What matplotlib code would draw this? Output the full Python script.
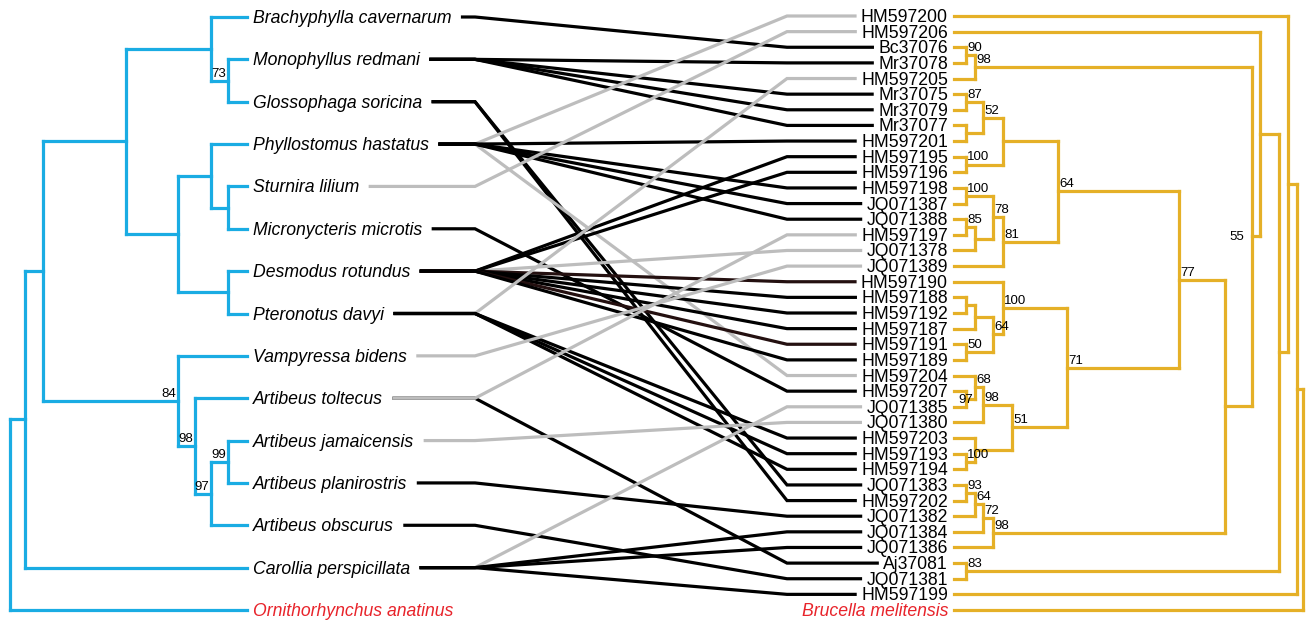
import matplotlib
matplotlib.use("Agg")
import matplotlib.pyplot as plt

plt.rcParams['font.family'] = ['Liberation Sans', 'DejaVu Sans']

# trees as (depth of node from the tip column, support, children); tips are names
bat_tree = (237, None, [
    (222, None, [
        (204, None, [
            (121, None, [
                (36, None, ["Brachyphylla cavernarum",
                            (19, 73, ["Monophyllus redmani", "Glossophaga soricina"])]),
                (69, None, [
                    (36, None, ["Phyllostomus hastatus",
                                (19, None, ["Sturnira lilium", "Micronycteris microtis"])]),
                    (19, None, ["Desmodus rotundus", "Pteronotus davyi"]),
                ]),
            ]),
            (69, 84, ["Vampyressa bidens",
                      (52, 98, ["Artibeus toltecus",
                                (36, 97, [(19, 99, ["Artibeus jamaicensis", "Artibeus planirostris"]),
                                          "Artibeus obscurus"])])]),
        ]),
        "Carollia perspicillata",
    ]),
    "Ornithorhynchus anatinus",
])

brucella_tree = (349, None, [
    (343, None, [
        (334, None, [
            "HM597200",
            (325, None, [
                (306, None, [
                    "HM597206",
                    (298, 55, [
                        (21, 98, [(12, 90, ["Bc37076", "Mr37078"]), "HM597205"]),
                        (271, None, [
                            (225, 77, [
                                (104, 64, [
                                    (49, None, [
                                        (29, 52, [(12, 87, ["Mr37075", "Mr37079"]),
                                                  (12, None, ["Mr37077", "HM597201"])]),
                                        (12, 100, ["HM597195", "HM597196"]),
                                    ]),
                                    (49, 81, [
                                        (39, 78, [(12, 100, ["HM597198", "JQ071387"]),
                                                  (21, None, [(12, 85, ["JQ071388", "HM597197"]),
                                                              "JQ071378"])]),
                                        "JQ071389",
                                    ]),
                                ]),
                                (113, 71, [
                                    (49, 100, [
                                        "HM597190",
                                        (39, 64, [(21, None, [(12, None, ["HM597188", "HM597192"]),
                                                              "HM597187"]),
                                                  (12, 50, ["HM597191", "HM597189"])]),
                                    ]),
                                    (58, 51, [
                                        (29, 98, [(21, 68, ["HM597204",
                                                            (12, 97, ["HM597207", "JQ071385"])]),
                                                  "JQ071380"]),
                                        (21, None, ["HM597203",
                                                    (12, 100, ["HM597193", "HM597194"])]),
                                    ]),
                                ]),
                            ]),
                            (39, 98, [(29, 72, [(21, 64, [(12, 93, ["JQ071383", "HM597202"]),
                                                          "JQ071382"]),
                                                "JQ071384"]),
                                      "JQ071386"]),
                        ]),
                    ]),
                ]),
                (12, 83, ["Aj37081", "JQ071381"]),
            ]),
        ]),
        "HM597199",
    ]),
    "Brucella melitensis",
])

outgroups = ["Ornithorhynchus anatinus", "Brucella melitensis"]

# host -> strain associations (drawn in this order)
links = [
    ("Brachyphylla cavernarum", "Bc37076"),
    ("Monophyllus redmani", "Mr37078"),
    ("Monophyllus redmani", "Mr37075"),
    ("Monophyllus redmani", "Mr37079"),
    ("Monophyllus redmani", "Mr37077"),
    ("Glossophaga soricina", "JQ071383"),
    ("Glossophaga soricina", "HM597202"),
    ("Phyllostomus hastatus", "HM597200"),
    ("Phyllostomus hastatus", "HM597204"),
    ("Phyllostomus hastatus", "HM597201"),
    ("Phyllostomus hastatus", "HM597198"),
    ("Phyllostomus hastatus", "JQ071387"),
    ("Phyllostomus hastatus", "JQ071388"),
    ("Sturnira lilium", "HM597206"),
    ("Micronycteris microtis", "HM597207"),
    ("Desmodus rotundus", "JQ071378"),
    ("Desmodus rotundus", "HM597195"),
    ("Desmodus rotundus", "HM597196"),
    ("Desmodus rotundus", "HM597190"),
    ("Desmodus rotundus", "HM597188"),
    ("Desmodus rotundus", "HM597192"),
    ("Desmodus rotundus", "HM597187"),
    ("Desmodus rotundus", "HM597191"),
    ("Desmodus rotundus", "HM597189"),
    ("Pteronotus davyi", "HM597205"),
    ("Pteronotus davyi", "HM597203"),
    ("Pteronotus davyi", "HM597193"),
    ("Pteronotus davyi", "HM597194"),
    ("Vampyressa bidens", "JQ071389"),
    ("Artibeus toltecus", "Aj37081"),
    ("Artibeus toltecus", "HM597197"),
    ("Artibeus jamaicensis", "JQ071380"),
    ("Artibeus planirostris", "JQ071382"),
    ("Artibeus obscurus", "JQ071381"),
    ("Carollia perspicillata", "JQ071385"),
    ("Carollia perspicillata", "JQ071384"),
    ("Carollia perspicillata", "JQ071386"),
    ("Carollia perspicillata", "HM597199"),
]
grey_strains = ["HM597200", "HM597206", "HM597205", "HM597197", "JQ071378",
                "JQ071389", "HM597204", "JQ071385", "JQ071380"]
dark_strains = ["HM597190", "HM597191"]

BLUE = '#1aace3'
GOLD = '#e5b027'
RED = '#e8242b'
LW = 2.3


def tip_names(node):
    if isinstance(node, str):
        return [node]
    return [t for ch in node[2] for t in tip_names(ch)]


def draw_clade(ax, node, tip_y, tip_x, sign, color, side):
    """draw a clade, return (x, y) of its node"""
    if isinstance(node, str):
        return tip_x, tip_y[node]
    depth, support, children = node
    x = tip_x + sign * depth
    pts = [draw_clade(ax, ch, tip_y, tip_x, sign, color, side) for ch in children]
    y = (pts[0][1] + pts[-1][1]) / 2
    ax.plot([x, x], [pts[0][1], pts[-1][1]], color=color, lw=LW, solid_capstyle='projecting')
    for cx, cy in pts:
        ax.plot([x, cx], [cy, cy], color=color, lw=LW, solid_capstyle='projecting')
    if support is not None:
        if side == 'left':
            ax.text(x - 2, y - 4, str(support), ha='right', va='baseline', fontsize=9.5)
        elif support == 55:
            ax.text(x - 8, y + 4, str(support), ha='right', va='baseline', fontsize=9.5)
        elif support == 97:
            ax.text(x, y + 4, str(support), ha='center', va='baseline', fontsize=9.5)
        else:
            ax.text(x + 1, y - 4, str(support), ha='left', va='baseline', fontsize=9.5)
    return x, y


fig = plt.figure(figsize=(13.06, 6.21), dpi=100)
ax = fig.add_axes([0, 0, 1, 1])
ax.set_xlim(0, 1306)
ax.set_ylim(621, 0)
ax.axis('off')

bats = tip_names(bat_tree)
strains = tip_names(brucella_tree)
bat_y = {n: 17 + i * (593 / (len(bats) - 1)) for i, n in enumerate(bats)}
strain_y = {n: 16 + i * (594 / (len(strains) - 1)) for i, n in enumerate(strains)}

draw_clade(ax, bat_tree, bat_y, 247, -1, BLUE, 'left')
draw_clade(ax, brucella_tree, strain_y, 954, 1, GOLD, 'right')

left_txt = {}
for n in bats:
    left_txt[n] = ax.text(253, bat_y[n] + 6, n, ha='left', va='baseline', fontsize=12.7,
                          style='italic', color=RED if n in outgroups else 'black')
right_txt = {}
for n in strains:
    right_txt[n] = ax.text(948, strain_y[n] + 6, n, ha='right', va='baseline', fontsize=12.7,
                           style='italic' if n in outgroups else 'normal',
                           color=RED if n in outgroups else 'black')

fig.canvas.draw()
renderer = fig.canvas.get_renderer()
inv = ax.transData.inverted()


def text_span(t):
    bb = t.get_window_extent(renderer)
    (x0, _), (x1, _) = inv.transform([[bb.x0, bb.y0], [bb.x1, bb.y1]])
    return x0, x1


for i, (host, strain) in enumerate(links):
    x_start = text_span(left_txt[host])[1] + 11
    x_end = text_span(right_txt[strain])[0] - 6
    y0, y1 = bat_y[host], strain_y[strain]
    if strain in grey_strains:
        col = '#bdbdbd'
    elif strain in dark_strains:
        col = '#241010'
    else:
        col = 'black'
    ax.plot([x_start, 475, 787, x_end], [y0, y0, y1, y1], color=col, lw=LW,
            zorder=2 + i * 0.01, solid_joinstyle='miter')

fig.savefig('out.png', dpi=100)
